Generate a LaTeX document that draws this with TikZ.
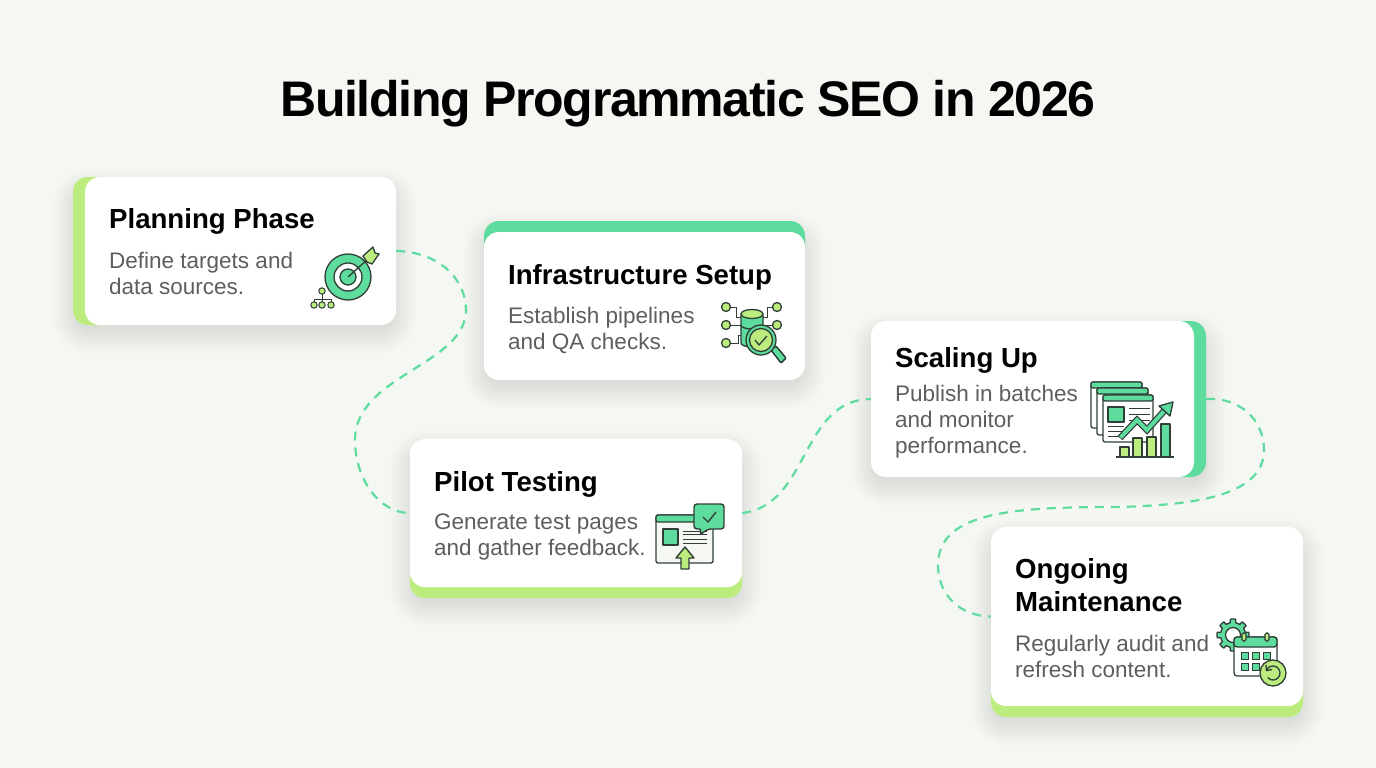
\documentclass[tikz,border=0pt]{standalone}
\usepackage{fontspec}
\setmainfont{Liberation Sans}
\newfontfamily\titlefont[LetterSpace=-2.7]{Liberation Sans}
\usepackage{xcolor}
\usetikzlibrary{positioning}
\definecolor{pagebg}{HTML}{F5F7F3}
\definecolor{teal}{HTML}{5EDC9E}
\definecolor{lime}{HTML}{BCEB7E}
\definecolor{inkline}{HTML}{2F3F38}
\definecolor{bodygray}{HTML}{5C5F5D}
\newcommand{\softshadow}[4]{%
  \foreach \s in {-2,0,...,22}
    \fill[black, opacity=0.0085, rounded corners=14pt+\s*1pt]
      (#1-\s+2,#2+14-\s) rectangle (#3+\s-2,#4+6+\s);
}
\begin{document}
\begin{tikzpicture}[x=1pt, y=-1pt,
  card/.style={rectangle, fill=white, rounded corners=15pt, inner sep=0pt},
  accent/.style={rectangle, rounded corners=15pt, inner sep=0pt},
  headline/.style={anchor=base west, inner sep=0pt, text=black,
                   font=\fontsize{27.6}{33}\selectfont\bfseries, align=left},
  blurb/.style={anchor=north west, inner sep=0pt, text=bodygray,
                font=\fontsize{22.5}{26}\selectfont, align=left},
  link/.style={draw=teal, line width=2.2pt, dash pattern=on 9pt off 7pt},
  icon/.style={draw=inkline, line width=1.3pt, line join=round},
  thinline/.style={draw=inkline, line width=1pt}
]
\useasboundingbox (0,0) rectangle (1376,768);
\fill[pagebg] (0,0) rectangle (1376,768);
\node[anchor=base, inner sep=0pt, font=\titlefont\fontsize{50}{60}\selectfont\bfseries] (title) at (688,116)
  {Building Programmatic SEO in 2026};

\softshadow{73}{177}{396}{325}
\softshadow{484}{221}{805}{380}
\softshadow{410}{439}{742}{598}
\softshadow{871}{321}{1206}{477}
\softshadow{991}{527}{1303}{717}

\node[accent, fill=lime, minimum width=60pt, minimum height=148pt] (planbar) at (103,251) {};
\node[accent, fill=teal, minimum width=321pt, minimum height=60pt] (infrabar) at (644.5,251) {};
\node[accent, fill=lime, minimum width=332pt, minimum height=60pt] (pilotbar) at (576,568) {};
\node[accent, fill=teal, minimum width=60pt, minimum height=156pt] (scalebar) at (1176,399) {};
\node[accent, fill=lime, minimum width=312pt, minimum height=60pt] (ongoingbar) at (1147,687) {};

\node[card, minimum width=311pt, minimum height=148pt] (plan) at (240.5,251) {};
\node[card, minimum width=321pt, minimum height=148pt] (infra) at (644.5,306) {};
\node[card, minimum width=332pt, minimum height=148pt] (pilot) at (576,513) {};
\node[card, minimum width=323pt, minimum height=156pt] (scale) at (1032.5,399) {};
\node[card, minimum width=312pt, minimum height=179pt] (ongoing) at (1147,616.5) {};

\draw[link] (plan.east) .. controls (440,252) and (466,280) .. (466,310)
  .. controls (466,365) and (355,375) .. (355,440)
  .. controls (355,480) and (380,513) .. (pilot.west);
\draw[link] (pilot.east) .. controls (810,505) and (800,400) .. (scale.west);
\draw[link] (scalebar.east) .. controls (1240,397) and (1264,420) .. (1264,450)
  .. controls (1264,500) and (1180,505) .. (1120,507)
  .. controls (1020,507) and (938,510) .. (938,565)
  .. controls (938,595) and (960,616) .. (ongoing.west);

\node[headline] (plantitle) at (109,228) {Planning Phase};
\node[blurb] (plantext) at (109,251.5) {Define targets and\\data sources.};
\node[headline] (infratitle) at (508,284) {Infrastructure Setup};
\node[blurb] (infratext) at (508,306.5) {Establish pipelines\\and QA checks.};
\node[headline] (pilottitle) at (434,491) {Pilot Testing};
\node[blurb] (pilottext) at (434,513.5) {Generate test pages\\and gather feedback.};
\node[headline] (scaletitle) at (895,367) {Scaling Up};
\node[blurb] (scaletext) at (895,384.5) {Publish in batches\\and monitor\\performance.};
\node[headline, text width=200pt] (ongoingtitle) at (1015,578) {Ongoing\\[0pt]Maintenance};
\node[blurb] (ongoingtext) at (1015,634.5) {Regularly audit and\\refresh content.};

% target
\draw[icon, fill=teal] (348,277) circle (23);
\draw[icon, fill=white] (348,277) circle (14);
\draw[icon, fill=teal] (348,277) circle (8);
\draw[icon] (348,277) -- (369,258);
\draw[icon, fill=lime] (363,256) -- (373,247) -- (375,253) -- (379,254) -- (372,264) -- (367,262) -- cycle;
\draw[thinline] (322,291) -- (322,305) (314,305) -- (314,299) -- (331,299) -- (331,305);
\foreach \x/\y in {322/291,314/305,322/305,331/305}
  \draw[thinline, fill=lime] (\x,\y) circle (3.2);

% database and lens
\draw[thinline] (726,307) -- (736,307) -- (736,317) -- (744,317);
\draw[thinline] (726,325) -- (744,325);
\draw[thinline] (726,343) -- (738,343) -- (738,335) -- (744,335);
\draw[thinline] (777,307) -- (767,307) -- (767,317) -- (762,317);
\draw[thinline] (777,325) -- (762,325);
\foreach \x/\y in {726/307,726/325,726/343,777/307,777/325}
  \draw[icon, fill=lime] (\x,\y) circle (4.5);
\draw[icon, fill=teal] (741,314) -- (741,343) arc[start angle=180, end angle=0, x radius=11, y radius=4]
  -- (763,314) -- cycle;
\draw[icon] (741,325) arc[start angle=180, end angle=0, x radius=11, y radius=4];
\draw[icon, fill=lime] (752,314) ellipse (11 and 4.5);
\draw[icon, fill=teal, line width=1.5pt, rounded corners=1pt] (771,350) -- (776,346) -- (786,358) -- (781,363) -- cycle;
\draw[icon, fill=teal] (761,340) circle (15);
\draw[icon, fill=lime] (761,340) circle (11.5);
\draw[icon] (755,340) -- (759,345) -- (767,336);

% page and speech bubble
\draw[icon, fill=pagebg, rounded corners=2pt] (656,515) rectangle (713,563);
\draw[icon, fill=teal, rounded corners=2pt] (656,522) -- (656,515) -- (713,515) -- (713,522) -- cycle;
\draw[icon, fill=teal] (663,529) rectangle (678,545);
\foreach \y in {531,534,539,543}
  \draw[thinline] (683,\y) -- (707,\y);
\draw[icon, fill=lime, line width=1.4pt] (685,547) -- (694,558) -- (689,558) -- (689,569) -- (681,569) -- (681,558) -- (676,558) -- cycle;
\draw[icon, fill=teal, line width=1.4pt, rounded corners=3pt] (694,504) -- (724,504) -- (724,529) -- (708,529) [sharp corners] -- (701,534) -- (700,529) [rounded corners=3pt] -- (694,529) -- cycle;
\draw[icon, line width=1.4pt] (703,517) -- (708,522) -- (716,512);

% stacked pages and growth chart
\foreach \l/\r/\t/\b in {1091/1142/382/428,1097/1148/388/435,1103/1153/395/442}{
  \draw[icon, fill=white, rounded corners=2pt] (\l,\t) rectangle (\r,\b);
  \draw[icon, fill=teal, rounded corners=2pt] (\l,\t+6) -- (\l,\t) -- (\r,\t) -- (\r,\t+6) -- cycle;
}
\draw[icon, fill=teal] (1108,407) rectangle (1124,422);
\foreach \y in {408,414,420}
  \draw[thinline] (1129,\y) -- (1150,\y);
\foreach \y in {426,431,436}
  \draw[thinline] (1108,\y) -- (1124,\y);
\foreach \l/\t/\r/\c in {1120/447/1129/lime,1133/438/1142/lime,1147/437/1156/lime,1161/424/1170/teal}
  \draw[icon, fill=\c] (\l,457) rectangle (\r,\t);
\draw[icon] (1116,457) -- (1174,457);
\draw[inkline, line width=6.5pt, miter limit=4] (1120,438) -- (1137,420) -- (1147,430) -- (1165,410);
\draw[teal, line width=4pt, miter limit=4] (1120.5,437.5) -- (1137,420) -- (1147,430) -- (1165,410);
\draw[icon, fill=teal] (1173,402) -- (1159,406) -- (1170,416) -- cycle;

% gear and calendar
\draw[icon, fill=teal] plot[samples=145, domain=0:360, variable=\t]
  ({1233+(12.5+3.5*(cos(8*\t)>0))*cos(\t)},{635+(12.5+3.5*(cos(8*\t)>0))*sin(\t)}) -- cycle;
\draw[icon, fill=white] (1233,635) circle (7.5);
\draw[icon, fill=white, rounded corners=3pt] (1234,637) rectangle (1277,676);
\draw[icon, fill=teal, rounded corners=3pt] (1234,647) -- (1234,637) -- (1277,637) -- (1277,647) -- cycle;
\foreach \x in {1244,1267}
  \draw[icon, fill=lime, rounded corners=1.5pt] (\x-2,633) rectangle (\x+2,641);
\foreach \x in {1241,1252,1263}
  \foreach \y in {652,663}
    \draw[thinline, fill=teal] (\x,\y) rectangle (\x+7,\y+7);
\draw[icon, fill=lime] (1273,673) circle (13);
\draw[icon] (1266.4,670.6) arc[start angle=200, end angle=500, radius=7];
\draw[icon] (1266,665) -- (1266.4,670.6) -- (1272,669.5);
\end{tikzpicture}
\end{document}
